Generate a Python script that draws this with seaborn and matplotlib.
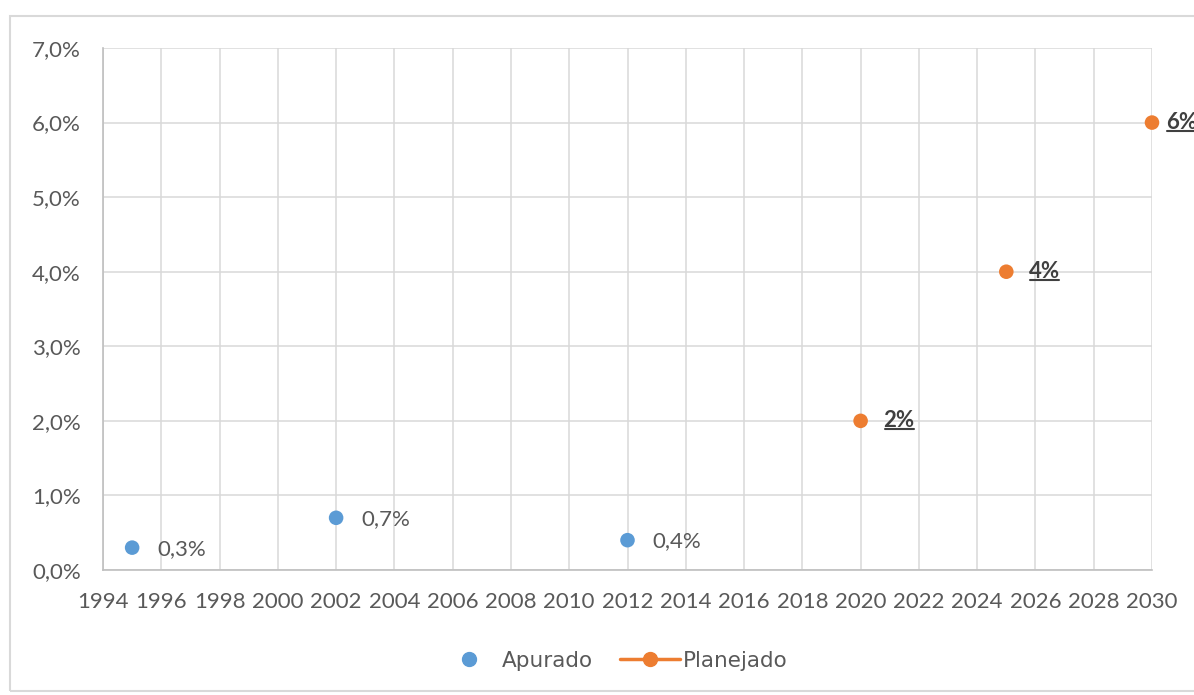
import matplotlib
matplotlib.use("Agg")
import matplotlib.pyplot as plt
import seaborn as sns
import pandas as pd
from matplotlib.lines import Line2D
from matplotlib.patches import Rectangle
from matplotlib.ticker import FuncFormatter, MultipleLocator

apurado_years = [1995, 2002, 2012]
apurado_vals = [0.3, 0.7, 0.4]
apurado_labels = ["0,3%", "0,7%", "0,4%"]
plan_years = [2020, 2025, 2030]
plan_vals = [2.0, 4.0, 6.0]
plan_labels = ["2%", "4%", "6%"]
series_names = ["Apurado", "Planejado"]

BLUE = "#5B9BD5"
ORANGE = "#ED7D31"
TXT = "#595959"
GRID = "#d9d9d9"

sns.set_style("white")
plt.rcParams["font.family"] = ["Lato", "DejaVu Sans"]

fig = plt.figure(figsize=(11.94, 6.95), dpi=100)
ax = fig.add_axes([103/1194, 1-570/695, (1152-103)/1194, (570-48)/695])

df_a = pd.DataFrame({"ano": apurado_years, "valor": apurado_vals})
df_p = pd.DataFrame({"ano": plan_years, "valor": plan_vals})
sns.scatterplot(data=df_a, x="ano", y="valor", color=BLUE, s=110, edgecolor="none", ax=ax, zorder=3, clip_on=False)
sns.scatterplot(data=df_p, x="ano", y="valor", color=ORANGE, s=110, edgecolor="none", ax=ax, zorder=3, clip_on=False)

ax.set_xlim(1994, 2030)
ax.set_ylim(0, 7)
ax.xaxis.set_major_locator(MultipleLocator(2))
ax.yaxis.set_major_locator(MultipleLocator(1))
ax.yaxis.set_major_formatter(FuncFormatter(lambda v, p: f"{v:.1f}%".replace(".", ",")))
ax.set_xlabel("")
ax.set_ylabel("")
ax.grid(True, color=GRID, linewidth=1.1)
ax.set_axisbelow(True)
for s in ["top", "right"]:
    ax.spines[s].set_visible(False)
for s in ["left", "bottom"]:
    ax.spines[s].set_color("#bfbfbf")
    ax.spines[s].set_linewidth(1.2)
ax.tick_params(axis="both", colors=TXT, labelsize=16, length=0)
ax.tick_params(axis="x", pad=16)
ax.tick_params(axis="y", pad=16)

for x, y, t in zip(apurado_years, apurado_vals, apurado_labels):
    ax.annotate(t, (x, y), xytext=(18, -1), textcoords="offset points",
                color=TXT, fontsize=16, va="center", ha="left")

plan_texts = []
n = len(plan_labels)
for i, (x, y, t) in enumerate(zip(plan_years, plan_vals, plan_labels)):
    off = 10 if i == n - 1 else 16.5
    tx = ax.annotate(t, (x, y), xytext=(off, 0), textcoords="offset points",
                     color="#404040", fontsize=16, fontweight="bold", va="center", ha="left",
                     annotation_clip=False)
    plan_texts.append(tx)

handles = [
    Line2D([], [], marker="o", color=BLUE, linestyle="none", markersize=10),
    Line2D([], [], marker="o", color=ORANGE, linestyle="-", linewidth=2.5, markersize=10),
]
fig.legend(handles, series_names, loc="center", bbox_to_anchor=(613/1194, 1-661/695),
           ncol=2, frameon=False, labelcolor=TXT, handlelength=2.8,
           columnspacing=1.25, handletextpad=0.12,
           prop={"family": "DejaVu Sans", "size": 15.5})

fig.patches.append(Rectangle((10/1194, 1-691/695), 1.2, (691-16)/695, transform=fig.transFigure,
                             fill=False, edgecolor="#d9d9d9", linewidth=1.5, zorder=0))

fig.canvas.draw()
r = fig.canvas.get_renderer()
inv = fig.transFigure.inverted()
for tx in plan_texts:
    bb = tx.get_window_extent(r)
    (x0, y0), (x1, _) = inv.transform([(bb.x0 + 1, bb.y0 + 2), (bb.x1 - 1, bb.y0 + 2)])
    fig.add_artist(Line2D([x0, x1], [y0, y0], transform=fig.transFigure, color="#404040", linewidth=1.5))

fig.savefig("out.png", dpi=100)
